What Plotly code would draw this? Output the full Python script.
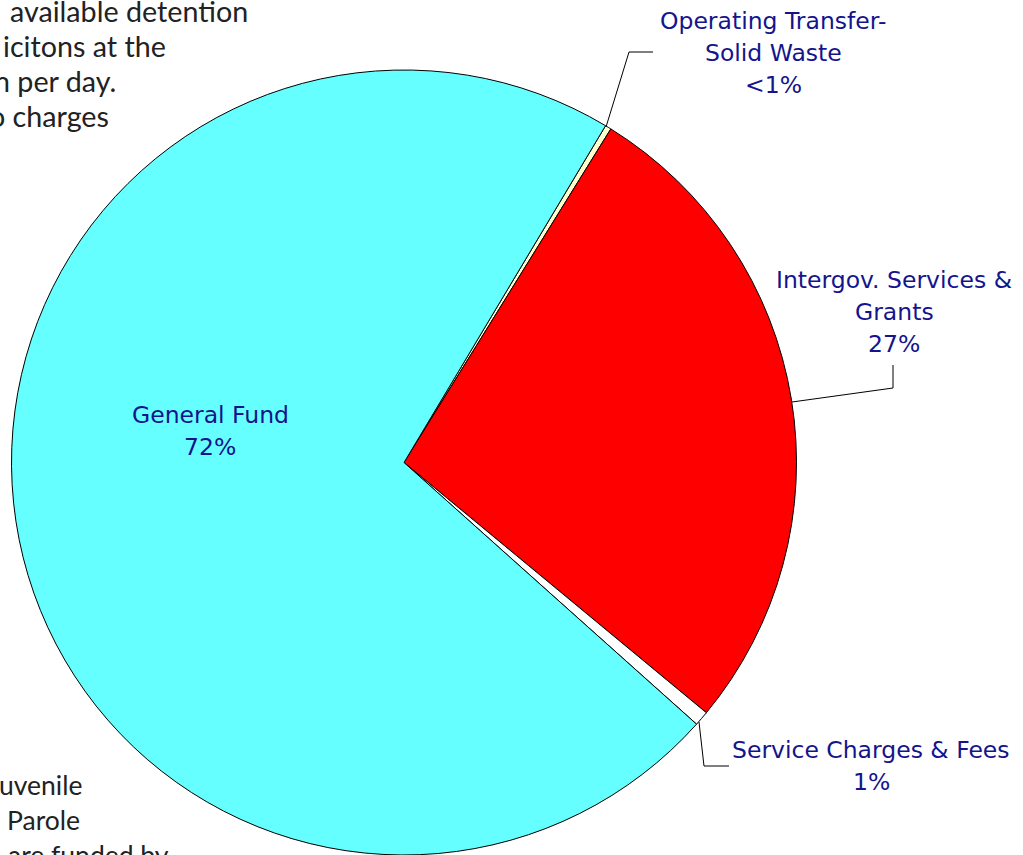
import plotly.graph_objects as go

# ---- data ----
slice_labels = ["Operating Transfer-Solid Waste", "Intergov. Services & Grants",
                "Service Charges & Fees", "General Fund"]
slice_values = [0.25, 27.17, 0.61, 71.97]
slice_colors = ["#FFFFCC", "#FF0000", "#FFFFFF", "#66FFFF"]

label_lines = [
    ["Operating Transfer-", "Solid Waste", "<1%"],
    ["Intergov. Services &", "Grants", "27%"],
    ["Service Charges & Fees", "1%"],
    ["General Fund", "72%"],
]

body_top_lines = ["available detention", "icitons at the", "n per day.", "o charges"]
body_bottom_lines = ["uvenile", "Parole", "are funded by"]

W, H = 1023, 855

fig = go.Figure()
fig.add_trace(go.Pie(
    labels=slice_labels, values=slice_values,
    marker=dict(colors=slice_colors, line=dict(color="black", width=1)),
    sort=False, direction="clockwise", rotation=30.9,
    textinfo="none", hoverinfo="label+percent", showlegend=False,
    domain=dict(x=[11 / W, 797 / W], y=[0, 1 - 70 / H]),
))

# label annotation anchors (pixel centre x, first line centre y)
label_pos = [(773, 21), (894, 280), (871, 750), (210, 415)]
line_gap = 32
navy = "#14148C"
annotations = []
for lines, (cx, cy) in zip(label_lines, label_pos):
    for i, t in enumerate(lines):
        annotations.append(dict(
            x=cx / W, y=1 - (cy + i * line_gap) / H, xref="paper", yref="paper",
            text=t, showarrow=False, xanchor="center", yanchor="middle",
            font=dict(family="DejaVu Sans", size=23.5, color=navy),
        ))

# body text fragments (cropped at the left edge of the page)
top_font = dict(family="Lato", size=28.7, color="#222222")
top_x = [8, 1, -8, -13]
for i, (t, x0) in enumerate(zip(body_top_lines, top_x)):
    annotations.append(dict(
        x=x0 / W, y=1 - (11 + i * 35) / H, xref="paper", yref="paper",
        text=t, showarrow=False, xanchor="left", yanchor="middle", font=top_font,
    ))
bottom_font = dict(family="Lato", size=26.5, color="#222222")
bot_x = [-3, 5, 6]
for i, (t, x0) in enumerate(zip(body_bottom_lines, bot_x)):
    annotations.append(dict(
        x=x0 / W, y=1 - (785 + i * 35) / H, xref="paper", yref="paper",
        text=t, showarrow=False, xanchor="left", yanchor="middle", font=bottom_font,
    ))

# leader lines
leaders = [
    [(606, 127), (629, 52), (653, 52)],
    [(792, 402), (893, 388), (893, 365)],
    [(699, 722), (704, 766), (729, 766)],
]
shapes = []
for pts in leaders:
    path = "M " + " L ".join(f"{x / W} {1 - y / H}" for x, y in pts)
    shapes.append(dict(type="path", path=path, xref="paper", yref="paper",
                       line=dict(color="black", width=1)))

fig.update_layout(
    width=W, height=H, margin=dict(l=0, r=0, t=0, b=0),
    paper_bgcolor="white", plot_bgcolor="white",
    annotations=annotations, shapes=shapes,
)
fig.write_html("out.html", config={"displayModeBar": False},
               post_script="document.body.style.margin='0';document.body.style.overflow='hidden';")
